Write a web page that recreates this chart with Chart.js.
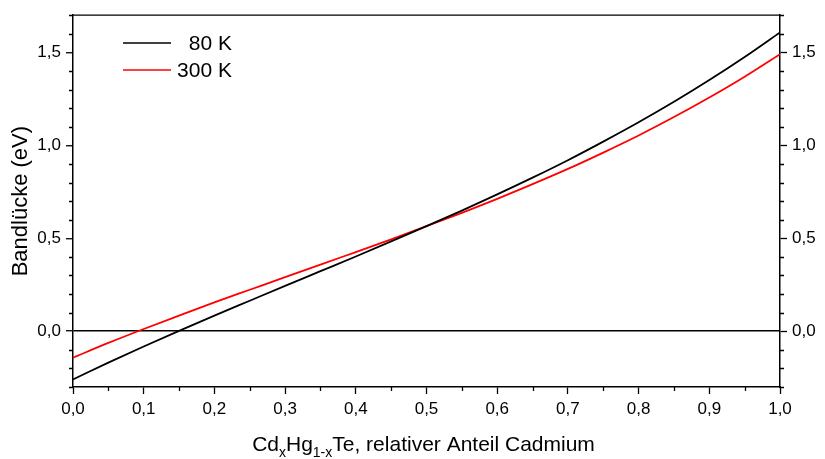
<!DOCTYPE html>
<html>
<head>
<meta charset="utf-8">
<script src="https://cdn.jsdelivr.net/npm/chart.js@4/dist/chart.umd.min.js"></script>
<style>
  html, body { margin: 0; padding: 0; background: #fff; }
  #wrap { width: 825px; height: 459px; position: relative; }
</style>
</head>
<body>
<div id="wrap"><canvas id="chart"></canvas></div>
<script>
// Cd-Anteil x
const xValues = [0, 0.05, 0.1, 0.15, 0.2, 0.25, 0.3, 0.35, 0.4, 0.45, 0.5,
  0.55, 0.6, 0.65, 0.7, 0.75, 0.8, 0.85, 0.9, 0.95, 1.0];
// Bandlücke in eV
const band80K = [-0.259, -0.169, -0.082, 0.002, 0.084, 0.164, 0.244, 0.323, 0.402, 0.483, 0.565,
  0.649, 0.736, 0.826, 0.920, 1.020, 1.124, 1.234, 1.351, 1.475, 1.607];
const band300K = [-0.142, -0.063, 0.012, 0.084, 0.155, 0.223, 0.291, 0.358, 0.426, 0.494, 0.565,
  0.637, 0.712, 0.791, 0.873, 0.961, 1.053, 1.152, 1.257, 1.369, 1.490];

const seriesLabels = ['80 K', '300 K'];
const xTicks = [0, 0.1, 0.2, 0.3, 0.4, 0.5, 0.6, 0.7, 0.8, 0.9, 1.0];
const yTicks = [0, 0.5, 1.0, 1.5];

const FONT = "'Liberation Sans', Arial, sans-serif";
const fmt = v => v.toFixed(1).replace('.', ',');

// kleine Zwischenstriche an den Achsen
const minorTicks = {
  id: 'minorTicks',
  afterDraw(chart) {
    const ctx = chart.ctx, a = chart.chartArea;
    const { x, y } = chart.scales;
    ctx.save();
    ctx.strokeStyle = '#000';
    ctx.lineWidth = 1.3;
    // top frame line
    ctx.beginPath();
    ctx.moveTo(a.left, a.top);
    ctx.lineTo(a.right, a.top);
    ctx.stroke();
    ctx.beginPath();
    for (let i = 0; i < xTicks.length - 1; i++) {
      const px = Math.round(x.getPixelForValue((xTicks[i] + xTicks[i + 1]) / 2)) + 0.5;
      ctx.moveTo(px, a.bottom);
      ctx.lineTo(px, a.bottom + 4);
    }
    for (let k = -3; k <= 17; k++) {
      if (k % 5 === 0) continue;
      const py = Math.round(y.getPixelForValue(k / 10)) + 0.5;
      ctx.moveTo(a.left, py);
      ctx.lineTo(a.left - 4, py);
      ctx.moveTo(a.right, py);
      ctx.lineTo(a.right + 4, py);
    }
    ctx.stroke();
    ctx.restore();
  }
};

// Legende oben links im Diagramm
const innerLegend = {
  id: 'innerLegend',
  afterDraw(chart) {
    const ctx = chart.ctx;
    ctx.save();
    ctx.font = '21px ' + FONT;
    ctx.textAlign = 'right';
    ctx.textBaseline = 'middle';
    ctx.fillStyle = '#000';
    chart.data.datasets.forEach((ds, i) => {
      const yy = 43 + i * 27;
      ctx.strokeStyle = ds.borderColor;
      ctx.lineWidth = 1.6;
      ctx.beginPath();
      ctx.moveTo(123, yy);
      ctx.lineTo(171, yy);
      ctx.stroke();
      ctx.fillText(ds.label, 232, yy + 1);
    });
    ctx.restore();
  }
};

// x-Achsentitel mit Indizes
const xTitle = {
  id: 'xTitle',
  afterDraw(chart) {
    const ctx = chart.ctx, a = chart.chartArea;
    const parts = [
      ['Cd', false], ['x', true], ['Hg', false], ['1-x', true],
      ['Te, relativer Anteil Cadmium', false]
    ];
    const big = '21px ' + FONT, small = '14px ' + FONT;
    ctx.save();
    let w = 0;
    parts.forEach(p => { ctx.font = p[1] ? small : big; w += ctx.measureText(p[0]).width; });
    let cx = (a.left + a.right) / 2 - w / 2 - 3;
    const base = 451;
    ctx.fillStyle = '#000';
    ctx.textBaseline = 'alphabetic';
    ctx.textAlign = 'left';
    parts.forEach(p => {
      ctx.font = p[1] ? small : big;
      ctx.fillText(p[0], cx, p[1] ? base + 6 : base);
      cx += ctx.measureText(p[0]).width;
    });
    ctx.restore();
  }
};

const tickFont = { family: FONT, size: 17 };

new Chart(document.getElementById('chart'), {
  type: 'line',
  data: {
    datasets: [
      {
        label: seriesLabels[0],
        data: xValues.map((v, i) => ({ x: v, y: band80K[i] })),
        borderColor: '#000',
        borderWidth: 1.8,
        pointRadius: 0,
        cubicInterpolationMode: 'monotone'
      },
      {
        label: seriesLabels[1],
        data: xValues.map((v, i) => ({ x: v, y: band300K[i] })),
        borderColor: '#f00',
        borderWidth: 1.8,
        pointRadius: 0,
        cubicInterpolationMode: 'monotone'
      }
    ]
  },
  options: {
    responsive: true,
    maintainAspectRatio: false,
    animation: false,
    layout: { padding: { top: 5, left: 0, right: 0, bottom: 0 } },
    plugins: { legend: { display: false }, tooltip: { enabled: false } },
    scales: {
      x: {
        type: 'linear',
        position: 'bottom',
        min: 0,
        max: 1,
        afterBuildTicks: s => { s.ticks = xTicks.map(v => ({ value: v })); },
        afterFit: s => { s.height = 72; },
        ticks: { callback: v => fmt(v), color: '#000', font: tickFont, padding: 5, maxRotation: 0 },
        grid: { drawOnChartArea: false, tickLength: 7, tickColor: '#000', tickWidth: 1.3 },
        border: { color: '#000', width: 1.5 }
      },
      y: {
        position: 'left',
        min: -0.3,
        max: 1.7,
        afterBuildTicks: s => { s.ticks = yTicks.map(v => ({ value: v })); },
        afterFit: s => { s.width = 73; },
        ticks: { callback: v => fmt(v), color: '#000', font: tickFont, padding: 5 },
        grid: {
          drawOnChartArea: true,
          color: c => (c.tick && c.tick.value === 0 ? '#000' : 'rgba(0,0,0,0)'),
          lineWidth: 1.5,
          tickLength: 7,
          tickColor: '#000',
          tickWidth: 1.3
        },
        border: { color: '#000', width: 1.5 },
        title: { display: true, text: 'Bandlücke (eV)', color: '#000', font: { family: FONT, size: 22 }, padding: { top: 8, bottom: 0 } }
      },
      y2: {
        position: 'right',
        min: -0.3,
        max: 1.7,
        afterBuildTicks: s => { s.ticks = yTicks.map(v => ({ value: v })); },
        afterFit: s => { s.width = 45; },
        ticks: { callback: v => fmt(v), color: '#000', font: tickFont, padding: 5 },
        grid: { drawOnChartArea: false, tickLength: 7, tickColor: '#000', tickWidth: 1.3 },
        border: { color: '#000', width: 1.5 }
      }
    }
  },
  plugins: [minorTicks, innerLegend, xTitle]
});
</script>
</body>
</html>
